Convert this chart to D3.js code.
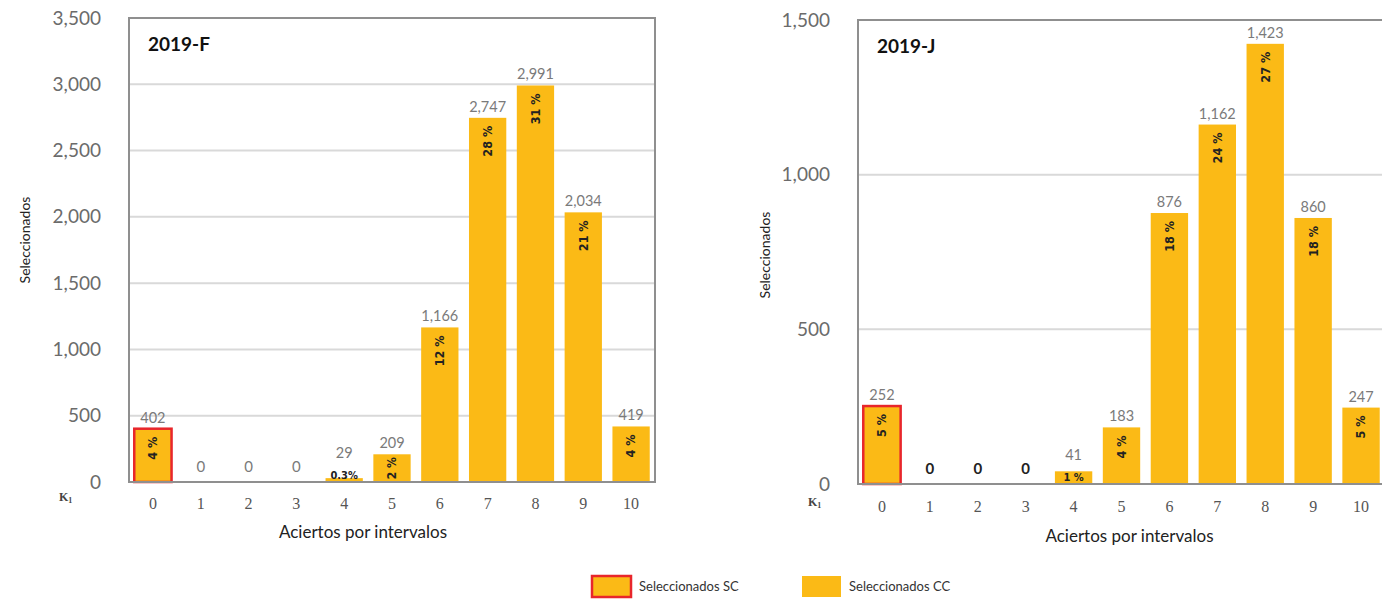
<!DOCTYPE html>
<html><head><meta charset="utf-8">
<script src="https://cdn.jsdelivr.net/npm/d3@7"></script>
<style>body{margin:0;background:#fff;}svg{display:block;}</style>
</head><body>
<svg id="chart" width="1382" height="600"></svg>
<script>
const categories = ["0","1","2","3","4","5","6","7","8","9","10"];
const valuesF = [402,0,0,0,29,209,1166,2747,2991,2034,419];
const pctF = ["4 %","","","","0.3%","2 %","12 %","28 %","31 %","21 %","4 %"];
const valuesJ = [252,0,0,0,41,183,876,1162,1423,860,247];
const pctJ = ["5 %","","","","1 %","4 %","18 %","24 %","27 %","18 %","5 %"];
const ticksF = [0,500,1000,1500,2000,2500,3000,3500];
const ticksJ = [0,500,1000,1500];
const seriesNames = ["Seleccionados SC","Seleccionados CC"];

const YELLOW = "#FBBA16", RED = "#E8262B";
const svg = d3.select("#chart");

function panel(o){
  const g = svg.append("g").attr("transform",`translate(${o.left},${o.top})`);
  const x = d3.scaleBand().domain(categories).range([0,o.w]).paddingInner(0.22).paddingOuter(0.11);
  const y = d3.scaleLinear().domain([0,o.max]).range([o.h,0]);
  g.selectAll("line.grid").data(o.ticks.filter(t=>t>0 && t<o.max)).join("line")
    .attr("x1",0).attr("x2",o.w).attr("y1",d=>y(d)).attr("y2",d=>y(d))
    .attr("stroke","#d9d9d9").attr("stroke-width",2);
  const ya = d3.axisLeft(y).tickValues(o.ticks).tickFormat(d3.format(",")).tickSize(0).tickPadding(o.tickPad);
  const yg = g.append("g").call(ya);
  yg.select(".domain").remove();
  yg.selectAll("text").attr("font-family","Lato, 'Open Sans', sans-serif").attr("font-size",19).attr("fill","#6b6b6b");
  g.selectAll("rect.bar").data(o.values).join("rect")
    .attr("x",(d,i)=>x(categories[i])).attr("width",x.bandwidth())
    .attr("y",d=>y(d)).attr("height",d=>o.h-y(d))
    .attr("fill",YELLOW)
    .attr("stroke",(d,i)=>i===0?RED:"none").attr("stroke-width",2.5);
  g.append("rect").attr("x",0).attr("y",0).attr("width",o.w).attr("height",o.h)
    .attr("fill","none").attr("stroke","#8f8f8f").attr("stroke-width",2);
  const xa = d3.axisBottom(x).tickSize(0).tickPadding(o.xPad);
  const xg = g.append("g").attr("transform",`translate(0,${o.h})`).call(xa);
  xg.select(".domain").remove();
  xg.selectAll("text").attr("font-family","'Liberation Serif', serif").attr("font-size",16).attr("fill","#555");
  g.append("text").attr("x",-o.kDx).attr("y",o.h+o.kDy).attr("font-family","'Liberation Serif', serif")
    .attr("font-size",12).attr("font-weight","bold").attr("fill","#444").text("K").append("tspan")
    .attr("font-size",8).attr("dy",2).text("1");
  const small = v => v>0 && (o.h-y(v))<16;
  g.selectAll("text.val").data(o.values).join("text")
    .attr("x",(d,i)=>x(categories[i])+x.bandwidth()/2)
    .attr("y",d=> d===0 ? o.h-10 : small(d) ? y(0)-24 : y(d)-6)
    .attr("text-anchor","middle").attr("font-family","Lato, 'Open Sans', sans-serif")
    .attr("font-size",d=>d===0?15:14.5)
    .attr("font-weight",d=>d===0&&o.zeroBold?"bold":"normal")
    .attr("fill",d=>d===0&&o.zeroBold?"#222":"#7a7a7a")
    .text(d=>d3.format(",")(d));
  o.pcts.forEach((p,i)=>{
    if(!p) return;
    const v = o.values[i], cx = x(categories[i])+x.bandwidth()/2;
    const bh = o.h - y(v);
    if(small(v)){
      g.append("text").attr("x",cx).attr("y",y(0)-3).attr("text-anchor","middle")
        .attr("font-family","'DejaVu Sans Condensed', sans-serif").attr("font-size",11).attr("font-weight","bold")
        .attr("fill","#222").text(p);
    } else if (bh < 40) {
      g.append("text").attr("transform",`translate(${cx},${y(v)+bh/2}) rotate(-90)`)
        .attr("dy","0.35em").attr("text-anchor","middle")
        .attr("font-family","'DejaVu Sans Condensed', sans-serif").attr("font-size",12).attr("font-weight","bold")
        .attr("fill","#222").text(p);
    } else {
      g.append("text").attr("transform",`translate(${cx},${y(v)+8}) rotate(-90)`)
        .attr("dy","0.35em").attr("text-anchor","end")
        .attr("font-family","'DejaVu Sans Condensed', sans-serif").attr("font-size",12.5).attr("font-weight","bold")
        .attr("fill","#222").text(p);
    }
  });
  g.append("text").attr("x",19).attr("y",33).attr("font-family","Lato, 'Open Sans', sans-serif")
    .attr("font-size",19).attr("font-weight","bold").attr("fill","#111").text(o.title);
  g.append("text").attr("x",o.w/2+o.axDx).attr("y",o.h+o.axDy).attr("text-anchor","middle")
    .attr("font-family","Lato, 'Open Sans', sans-serif").attr("font-size",17).attr("fill","#222")
    .text("Aciertos por intervalos");
  g.append("text").attr("transform",`translate(${-o.yTitleDx},${o.yTitleY}) rotate(-90)`)
    .attr("text-anchor","middle").attr("font-family","Lato, 'Open Sans', sans-serif")
    .attr("font-size",14).attr("fill","#222").text("Seleccionados");
}

panel({left:129, top:18, w:526, h:464, max:3500, values:valuesF, pcts:pctF, ticks:ticksF,
  title:"2019-F", zeroBold:false, tickPad:28, xPad:16, kDx:70, kDy:19, axDx:-29, axDy:56, yTitleDx:99, yTitleY:222});
panel({left:858, top:20, w:527, h:464, max:1500, values:valuesJ, pcts:pctJ, ticks:ticksJ,
  title:"2019-J", zeroBold:true, tickPad:28, xPad:17, kDx:50, kDy:22, axDx:8, axDy:58, yTitleDx:88, yTitleY:235});

const leg = svg.append("g");
const legX = [592, 802];
seriesNames.forEach((s,i)=>{
  leg.append("rect").attr("x",legX[i]).attr("y",576).attr("width",39).attr("height",21)
    .attr("fill",YELLOW).attr("stroke",i===0?RED:"none").attr("stroke-width",2.5);
  leg.append("text").attr("x",legX[i]+47).attr("y",591).attr("font-family","Lato, 'Open Sans', sans-serif")
    .attr("font-size",13).attr("fill","#333").text(s);
});
</script>
</body></html>
